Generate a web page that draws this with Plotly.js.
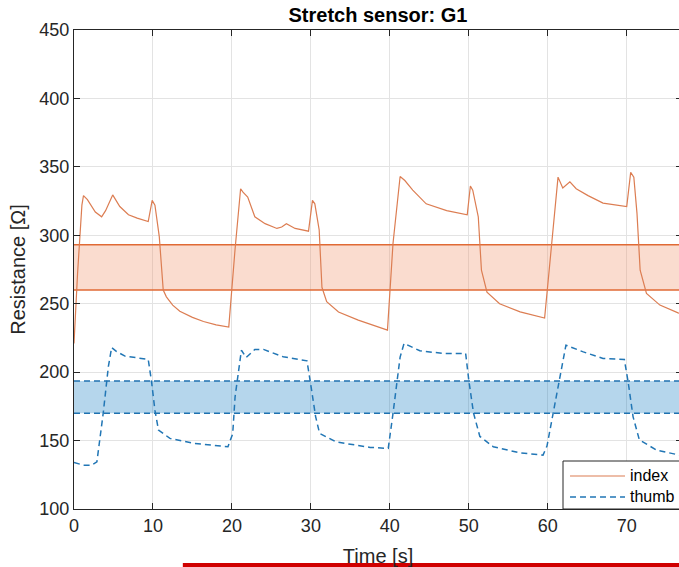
<!DOCTYPE html>
<html>
<head>
<meta charset="utf-8">
<script src="https://cdn.plot.ly/plotly-3.0.1.min.js"></script>
<style>
html,body{margin:0;padding:0;overflow:hidden;background:#fff;}
#chart{width:690px;height:567px;}
</style>
</head>
<body>
<div id="chart"></div>
<script>
// ---- data ----
var timeRange = [0, 77];
var bandIndex = [260, 293];     // lower, upper of orange band
var bandThumb = [170, 193.5];   // lower, upper of blue band

var indexT = [0, 0.45, 1.0, 1.2, 1.7, 2.7, 3.5, 4.0, 4.9, 5.8, 6.9, 8.0, 9.4, 9.9, 10.25, 10.8, 11.3, 11.7, 12.5, 13.4, 15.0, 16.4, 18.0, 19.6,
  20.4, 21.1, 21.4, 22.0, 22.9, 24.2, 25.7, 26.3, 26.9, 28.0, 29.7, 30.2, 30.5, 31.05, 31.4, 32.0, 33.5, 36.0, 39.7,
  40.4, 41.3, 41.9, 42.9, 44.6, 47.2, 49.8, 50.2, 50.5, 51.2, 51.6, 52.3, 53.9, 56.5, 59.6,
  60.5, 61.3, 61.9, 62.8, 63.6, 65.1, 67.0, 70.0, 70.5, 70.9, 71.3, 71.7, 72.5, 74.2, 76.5, 77];
var indexV = [221, 272, 322, 329, 326, 317, 313.5, 318, 329.5, 321, 315, 312.5, 310, 325.5, 322, 299, 260, 255, 249, 244.5, 240, 237, 234.5, 233,
  290, 334, 331.5, 328, 313.5, 308.5, 305, 306, 308.5, 305, 303, 325.5, 323, 304, 262, 251.5, 244, 238, 230.7,
  294, 343, 340, 333, 323, 318, 315, 336, 333, 313.5, 274.5, 258.5, 250, 244, 239.5,
  294, 342.5, 334.5, 339, 334, 329, 323.5, 321, 346, 342.5, 316, 274.5, 257.5, 249, 243.3, 242.5];

var thumbT = [0, 1.2, 2.2, 2.9, 3.7, 4.35, 4.77, 5.4, 6.46, 9.4, 9.8, 10.25, 10.7, 12.15, 15.1, 19.5, 20.1, 20.4, 21.2, 21.8, 22.9, 24.0, 26.5, 29.5,
  29.9, 30.6, 31.1, 33.2, 37.5, 39.8, 40.4, 41.3, 41.8, 43.8, 46.7, 49.6, 50.0, 50.6, 51.4, 53.1, 56.5, 59.4, 59.9,
  61.1, 62.3, 64.5, 67.0, 69.7, 70.2, 70.8, 71.6, 73.8, 76.5, 77];
var thumbV = [134, 132, 132, 134.5, 170, 204, 218, 215, 211.7, 209.3, 194, 172, 157.7, 151.6, 148, 145.5, 155, 182, 216, 210.7, 216.6, 216.6, 211.2, 208.3,
  194, 167.5, 155.3, 149, 145, 144.3, 169.8, 211, 221, 215.6, 213.7, 213.7, 194, 170, 153, 145.5, 141, 139.4, 146,
  182, 219.7, 214.8, 210, 209.3, 192, 167.5, 150.5, 143, 139.4, 139];

var seriesNames = ['index', 'thumb'];
var xTicks = [0, 10, 20, 30, 40, 50, 60, 70];
var yTicks = [100, 150, 200, 250, 300, 350, 400, 450];

// ---- styling ----
var orange = '#dc7d52', orangeEdge = '#e06a35', orangeFill = 'rgba(240,150,110,0.33)';
var blue = '#2176b5', blueEdge = '#1f72b0', blueFill = 'rgba(0,114,189,0.29)';
var fontFam = 'Liberation Sans, Arial, Helvetica, sans-serif';
var axisCol = '#262626';
var dashPat = '6px,4px';

var traces = [
  {x: timeRange, y: [bandIndex[0], bandIndex[0]], mode: 'lines', line: {color: orangeEdge, width: 1.5}, showlegend: false, hoverinfo: 'skip'},
  {x: timeRange, y: [bandIndex[1], bandIndex[1]], mode: 'lines', fill: 'tonexty', fillcolor: orangeFill, line: {color: orangeEdge, width: 1.5}, showlegend: false, hoverinfo: 'skip'},
  {x: timeRange, y: [bandThumb[0], bandThumb[0]], mode: 'lines', line: {color: blueEdge, width: 1.5, dash: dashPat}, showlegend: false, hoverinfo: 'skip'},
  {x: timeRange, y: [bandThumb[1], bandThumb[1]], mode: 'lines', fill: 'tonexty', fillcolor: blueFill, line: {color: blueEdge, width: 1.5, dash: dashPat}, showlegend: false, hoverinfo: 'skip'},
  {x: indexT, y: indexV, name: seriesNames[0], mode: 'lines', line: {color: orange, width: 1.2}, showlegend: false},
  {x: thumbT, y: thumbV, name: seriesNames[1], mode: 'lines', line: {color: blue, width: 1.5, dash: dashPat}, showlegend: false}
];

var axisCommon = {
  showline: true, linecolor: axisCol, linewidth: 1, mirror: 'ticks',
  ticks: 'inside', ticklen: 6, tickcolor: axisCol, tickwidth: 1,
  showgrid: true, gridcolor: '#e3e3e3', gridwidth: 1, zeroline: false,
  tickfont: {family: fontFam, size: 18, color: axisCol},
  automargin: false
};

// MATLAB-style legend box (southeast, inside the axes), drawn in paper coordinates
var legBox = {x0: 0.8043, x1: 1.03, y0: 0, y1: 0.1002};
var legRows = [0.0689, 0.0251];
var legLineX = [0.8158, 0.9063];
var legTextX = 0.9115;

var shapes = [
  {type: 'rect', xref: 'paper', yref: 'paper', x0: legBox.x0, x1: legBox.x1, y0: legBox.y0, y1: legBox.y1,
   fillcolor: '#fff', line: {color: axisCol, width: 1}, layer: 'above'},
  {type: 'line', xref: 'paper', yref: 'paper', x0: legLineX[0], x1: legLineX[1], y0: legRows[0], y1: legRows[0],
   line: {color: orange, width: 1.2}, layer: 'above'},
  {type: 'line', xref: 'paper', yref: 'paper', x0: legLineX[0], x1: legLineX[1], y0: legRows[1], y1: legRows[1],
   line: {color: blue, width: 1.5, dash: dashPat}, layer: 'above'},
  {type: 'rect', xref: 'paper', yref: 'paper', x0: 0.179, x1: 1.2, y0: -0.1126, y1: -0.14,
   fillcolor: '#d00000', line: {width: 0}, layer: 'above'}
];

var annotations = seriesNames.map(function (n, i) {
  return {text: n, xref: 'paper', yref: 'paper', x: legTextX, y: legRows[i], xanchor: 'left', yanchor: 'middle',
          showarrow: false, font: {family: fontFam, size: 16, color: '#000'}};
});

var layout = {
  width: 690, height: 567,
  margin: {l: 74, r: 8, t: 30, b: 58},
  paper_bgcolor: '#fff', plot_bgcolor: '#fff',
  font: {family: fontFam, color: axisCol},
  title: {text: '<b>Stretch sensor: G1</b>', font: {family: fontFam, size: 20, color: '#000'},
          x: 0.5, xref: 'paper', y: 0.973, yref: 'container', yanchor: 'middle'},
  xaxis: Object.assign({}, axisCommon, {range: timeRange, tickvals: xTicks,
          title: {text: 'Time [s]', font: {family: fontFam, size: 20, color: axisCol}, standoff: 14}}),
  yaxis: Object.assign({}, axisCommon, {range: [yTicks[0], yTicks[yTicks.length - 1]], tickvals: yTicks,
          title: {text: 'Resistance [Ω]', font: {family: fontFam, size: 20, color: axisCol}, standoff: 8}}),
  shapes: shapes,
  annotations: annotations,
  showlegend: false
};

Plotly.newPlot('chart', traces, layout, {displayModeBar: false, staticPlot: true});
</script>
</body>
</html>
